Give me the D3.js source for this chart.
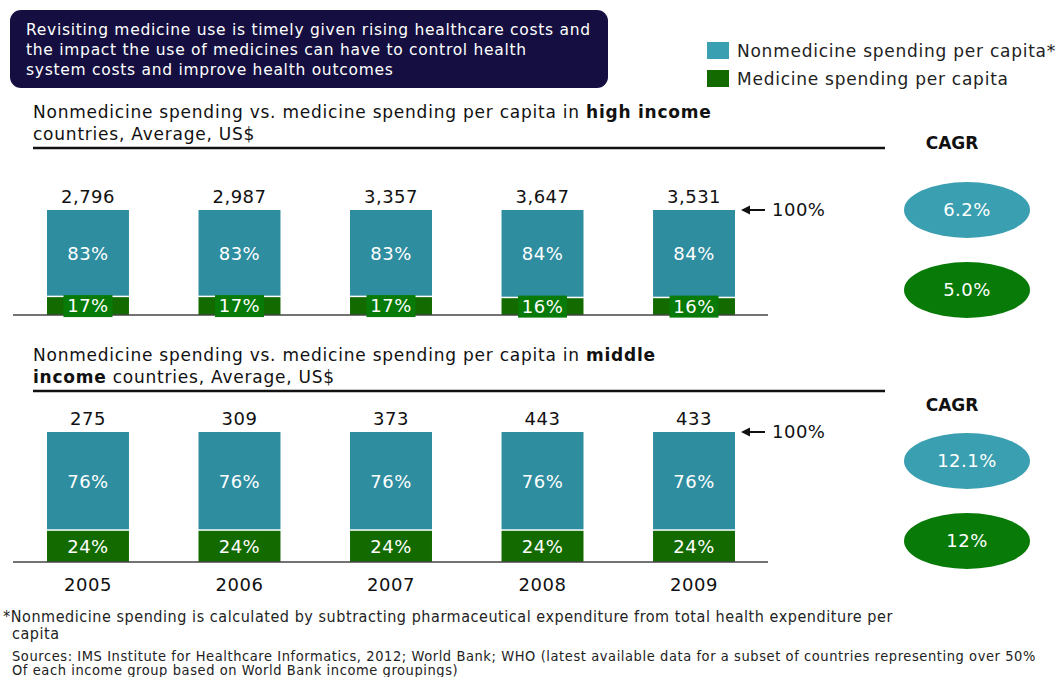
<!DOCTYPE html>
<html>
<head>
<meta charset="utf-8">
<script src="https://cdn.jsdelivr.net/npm/d3@7"></script>
<style>
  body { margin: 0; background: #fff; }
  svg { display: block; font-family: "DejaVu Sans", Verdana, sans-serif; }
</style>
</head>
<body>
<div id="chart"></div>
<script>
// data
var years = ["2005", "2006", "2007", "2008", "2009"];
var highTotal = [2796, 2987, 3357, 3647, 3531];
var highNonShare = [83, 83, 83, 84, 84];
var highMedShare = [17, 17, 17, 16, 16];
var midTotal = [275, 309, 373, 443, 433];
var midNonShare = [76, 76, 76, 76, 76];
var midMedShare = [24, 24, 24, 24, 24];
var highCagr = ["6.2%", "5.0%"];
var midCagr = ["12.1%", "12%"];

var colTeal = "#2e8d9f";
var colTealLight = "#3a9fb0";
var colGreen = "#136b00";
var colGreenLight = "#077a07";
var colNavy = "#140f40";

var svgWidth = 1060;
var svgHeight = 677;

var svg = d3.select("#chart")
  .append("svg")
  .attr("width", svgWidth)
  .attr("height", svgHeight);

// callout box
svg.append("rect")
  .attr("x", 10).attr("y", 10)
  .attr("width", 598).attr("height", 78)
  .attr("rx", 11)
  .attr("fill", colNavy);

var calloutLines = [
  "Revisiting medicine use is timely given rising healthcare costs and",
  "the impact the use of medicines can have to control health",
  "system costs and improve health outcomes"
];
svg.append("g").selectAll("text")
  .data(calloutLines)
  .enter()
  .append("text")
  .attr("x", 26)
  .attr("y", (d, i) => 35 + i * 20)
  .attr("fill", "#fff")
  .attr("font-size", 15.5)
  .attr("letter-spacing", 0.72)
  .text(d => d);

// legend
var legendItems = [
  { label: "Nonmedicine spending per capita*", color: colTealLight },
  { label: "Medicine spending per capita", color: colGreen }
];
var legend = svg.append("g");
legend.selectAll("rect")
  .data(legendItems)
  .enter()
  .append("rect")
  .attr("x", 707)
  .attr("y", (d, i) => 42 + i * 28)
  .attr("width", 22)
  .attr("height", 17)
  .attr("fill", d => d.color);
legend.selectAll("text")
  .data(legendItems)
  .enter()
  .append("text")
  .attr("x", 737)
  .attr("y", (d, i) => 57 + i * 28)
  .attr("font-size", 17)
  .attr("letter-spacing", 0.75)
  .attr("fill", "#222")
  .text(d => d.label);

// x scale shared by both panels
var x = d3.scaleBand()
  .domain(years)
  .range([47, 735])
  .paddingInner(0.459)
  .paddingOuter(0);

function drawPanel(opts) {
  var g = svg.append("g");

  // title
  var t1 = g.append("text")
    .attr("x", 33).attr("y", opts.titleY)
    .attr("font-size", 17).attr("letter-spacing", 0.77).attr("fill", "#111");
  opts.title1.forEach(function(p) {
    t1.append("tspan").attr("font-weight", p.bold ? "bold" : null).text(p.t);
  });
  var t2 = g.append("text")
    .attr("x", 33).attr("y", opts.titleY + 22)
    .attr("font-size", 17).attr("letter-spacing", 0.77).attr("fill", "#111");
  opts.title2.forEach(function(p) {
    t2.append("tspan").attr("font-weight", p.bold ? "bold" : null).text(p.t);
  });

  g.append("line")
    .attr("x1", 33).attr("x2", 885)
    .attr("y1", opts.ruleY).attr("y2", opts.ruleY)
    .attr("stroke", "#111").attr("stroke-width", 2.5);

  var y = d3.scaleLinear()
    .domain([0, 100])
    .range([opts.base, opts.top]);

  var rows = years.map((yr, i) => ({
    year: yr, total: opts.total[i], non: opts.non[i], med: opts.med[i]
  }));

  // medicine segment
  g.selectAll(".med")
    .data(rows)
    .enter()
    .append("rect")
    .attr("x", d => x(d.year))
    .attr("y", d => y(d.med))
    .attr("width", x.bandwidth())
    .attr("height", d => y(0) - y(d.med))
    .attr("fill", colGreen);

  // nonmedicine segment
  g.selectAll(".non")
    .data(rows)
    .enter()
    .append("rect")
    .attr("x", d => x(d.year))
    .attr("y", d => y(d.med + d.non))
    .attr("width", x.bandwidth())
    .attr("height", d => y(d.med) - y(d.med + d.non) - 1.5)
    .attr("fill", colTeal);

  // baseline
  g.append("line")
    .attr("x1", 13).attr("x2", 768)
    .attr("y1", y(0)).attr("y2", y(0))
    .attr("stroke", "#444").attr("stroke-width", 1.5);

  // total labels
  g.selectAll(".tot")
    .data(rows)
    .enter()
    .append("text")
    .attr("x", d => x(d.year) + x.bandwidth() / 2)
    .attr("y", y(100) - 7)
    .attr("text-anchor", "middle")
    .attr("font-size", 18)
    .attr("letter-spacing", 0.5)
    .attr("fill", "#111")
    .text(d => d3.format(",")(d.total));

  // percent labels
  g.selectAll(".pnon")
    .data(rows)
    .enter()
    .append("text")
    .attr("x", d => x(d.year) + x.bandwidth() / 2)
    .attr("y", d => (y(d.med) + y(100)) / 2)
    .attr("dy", "0.35em")
    .attr("text-anchor", "middle")
    .attr("font-size", 18)
    .attr("letter-spacing", 0.5)
    .attr("fill", "#fff")
    .text(d => d.non + "%");

  if (opts.medBox) {
    g.selectAll(".pbox")
      .data(rows)
      .enter()
      .append("rect")
      .attr("x", d => x(d.year) + x.bandwidth() / 2 - 24.5)
      .attr("y", d => (y(d.med) + y(0)) / 2 - 11)
      .attr("width", 49)
      .attr("height", 22)
      .attr("fill", colGreenLight);
  }

  g.selectAll(".pmed")
    .data(rows)
    .enter()
    .append("text")
    .attr("x", d => x(d.year) + x.bandwidth() / 2)
    .attr("y", d => (y(d.med) + y(0)) / 2)
    .attr("dy", "0.35em")
    .attr("text-anchor", "middle")
    .attr("font-size", 18)
    .attr("letter-spacing", 0.5)
    .attr("fill", "#fff")
    .text(d => d.med + "%");

  // 100% arrow
  var ay = y(100);
  g.append("line")
    .attr("x1", 748).attr("x2", 765)
    .attr("y1", ay).attr("y2", ay)
    .attr("stroke", "#111").attr("stroke-width", 2);
  g.append("path")
    .attr("d", `M741,${ay} L750,${ay - 4.5} L750,${ay + 4.5} Z`)
    .attr("fill", "#111");
  g.append("text")
    .attr("x", 772).attr("y", ay)
    .attr("dy", "0.35em")
    .attr("font-size", 18)
    .attr("letter-spacing", 0.5)
    .attr("fill", "#111")
    .text("100%");

  // CAGR
  g.append("text")
    .attr("x", 952).attr("y", opts.cagrY)
    .attr("dy", "0.35em")
    .attr("text-anchor", "middle")
    .attr("font-size", 17)
    .attr("font-weight", "bold")
    .attr("fill", "#111")
    .text("CAGR");

  var ells = [
    { v: opts.cagr[0], c: colTealLight, cy: opts.ellY[0] },
    { v: opts.cagr[1], c: colGreenLight, cy: opts.ellY[1] }
  ];
  g.selectAll(".ell")
    .data(ells)
    .enter()
    .append("ellipse")
    .attr("cx", 967).attr("cy", d => d.cy)
    .attr("rx", 63).attr("ry", 28)
    .attr("fill", d => d.c);
  g.selectAll(".elt")
    .data(ells)
    .enter()
    .append("text")
    .attr("x", 967).attr("y", d => d.cy)
    .attr("dy", "0.35em")
    .attr("text-anchor", "middle")
    .attr("font-size", 18)
    .attr("letter-spacing", 0.5)
    .attr("fill", "#fff")
    .text(d => d.v);

  return y;
}

drawPanel({
  titleY: 118,
  title1: [{ t: "Nonmedicine spending vs. medicine spending per capita in " }, { t: "high income", bold: true }],
  title2: [{ t: "countries, Average, US$" }],
  ruleY: 148,
  top: 210, base: 315,
  total: highTotal, non: highNonShare, med: highMedShare,
  medBox: true,
  cagrY: 143, cagr: highCagr, ellY: [210, 290]
});

drawPanel({
  titleY: 361,
  title1: [{ t: "Nonmedicine spending vs. medicine spending per capita in " }, { t: "middle", bold: true }],
  title2: [{ t: "income", bold: true }, { t: " countries, Average, US$" }],
  ruleY: 391,
  top: 432, base: 562,
  total: midTotal, non: midNonShare, med: midMedShare,
  medBox: false,
  cagrY: 405, cagr: midCagr, ellY: [461, 541]
});

// year axis under the lower panel
var xAxis = svg.append("g")
  .attr("transform", "translate(0, 578)")
  .call(d3.axisBottom(x).tickSize(0).tickPadding(0));
xAxis.select(".domain").remove();
xAxis.selectAll("text")
  .attr("font-family", "DejaVu Sans, Verdana, sans-serif")
  .attr("font-size", 18)
  .attr("letter-spacing", 0.5)
  .attr("fill", "#111");

// footnotes
var notes = [
  { t: "*Nonmedicine spending is calculated by subtracting pharmaceutical expenditure from total health expenditure per", x: 3, y: 622, s: 16, ls: 0.55 },
  { t: "capita", x: 12, y: 639, s: 16, ls: 0.55 },
  { t: "Sources: IMS Institute for Healthcare Informatics, 2012; World Bank; WHO (latest available data for a subset of countries representing over 50%", x: 12, y: 661, s: 14.5, ls: 0.58 },
  { t: "Of each income group based on World Bank income groupings)", x: 12, y: 675, s: 14.5, ls: 0.58 }
];
svg.append("g").selectAll("text")
  .data(notes)
  .enter()
  .append("text")
  .attr("x", d => d.x)
  .attr("y", d => d.y)
  .attr("font-family", "'DejaVu Sans Condensed', 'DejaVu Sans', sans-serif")
  .attr("font-size", d => d.s)
  .attr("letter-spacing", d => d.ls)
  .attr("fill", "#222")
  .text(d => d.t);
</script>
</body>
</html>
